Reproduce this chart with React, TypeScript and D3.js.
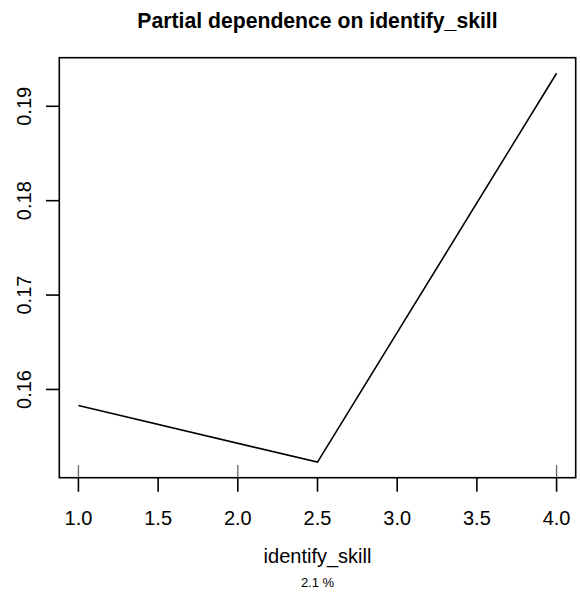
import React from 'react'
import * as d3 from 'd3'

// partial dependence values
const xValues = [1.0, 2.5, 4.0]
const yValues = [0.1583, 0.1523, 0.1935]
const xTicks = [1.0, 1.5, 2.0, 2.5, 3.0, 3.5, 4.0]
const yTicks = [0.16, 0.17, 0.18, 0.19]
const rugValues = [1.0, 2.0, 4.0]
const title = 'Partial dependence on identify_skill'
const xLabel = 'identify_skill'
const subLabel = '2.1 %'

const width = 581
const height = 595
const box = { left: 59.3, right: 575.7, top: 57.7, bottom: 477.7 }
const font = '"Liberation Sans", Arial, sans-serif'

export default function App() {
  // R style 4% padding on the data range
  const [x0, x1] = d3.extent(xValues) as [number, number]
  const [y0, y1] = d3.extent(yValues) as [number, number]
  const px = (x1 - x0) * 0.04
  const py = (y1 - y0) * 0.04
  const x = d3.scaleLinear().domain([x0 - px, x1 + px]).range([box.left, box.right])
  const y = d3.scaleLinear().domain([y0 - py, y1 + py]).range([box.bottom, box.top])

  const line = d3.line<number>()
    .x((d, i) => x(xValues[i]))
    .y(d => y(d))

  const cx = (box.left + box.right) / 2
  const lw = 1.6

  return (
    <svg width={width} height={height} style={{ position: 'absolute', left: 0, top: 0, background: 'white' }}>
      <text x={cx} y={27.5} textAnchor="middle" fontFamily={font} fontWeight="bold" fontSize={21.2}>{title}</text>

      <rect x={box.left} y={box.top} width={box.right - box.left} height={box.bottom - box.top}
        fill="none" stroke="black" strokeWidth={lw} />

      {/* y axis */}
      {yTicks.map((t, i) => (
        <g key={i}>
          <line x1={box.left - 13.3} x2={box.left} y1={y(t)} y2={y(t)} stroke="black" strokeWidth={lw} />
          <text transform={`translate(31,${y(t)}) rotate(-90)`} textAnchor="middle"
            fontFamily={font} fontSize={20}>{t.toFixed(2)}</text>
        </g>
      ))}

      {/* x axis */}
      {xTicks.map((t, i) => (
        <g key={i}>
          <line x1={x(t)} x2={x(t)} y1={box.bottom} y2={box.bottom + 14} stroke="black" strokeWidth={lw} />
          <text x={x(t)} y={524.5} textAnchor="middle" fontFamily={font} fontSize={20}>{t.toFixed(1)}</text>
        </g>
      ))}

      {/* rug */}
      {rugValues.map((t, i) => (
        <line key={i} x1={x(t)} x2={x(t)} y1={box.bottom} y2={box.bottom - 12.6} stroke="#666" strokeWidth={1.3} />
      ))}

      <path d={line(yValues) || ''} fill="none" stroke="black" strokeWidth={lw} />

      <text x={cx} y={563} textAnchor="middle" fontFamily={font} fontSize={20}>{xLabel}</text>
      <text x={cx} y={587} textAnchor="middle" fontFamily={font} fontSize={13}>{subLabel}</text>
    </svg>
  )
}
